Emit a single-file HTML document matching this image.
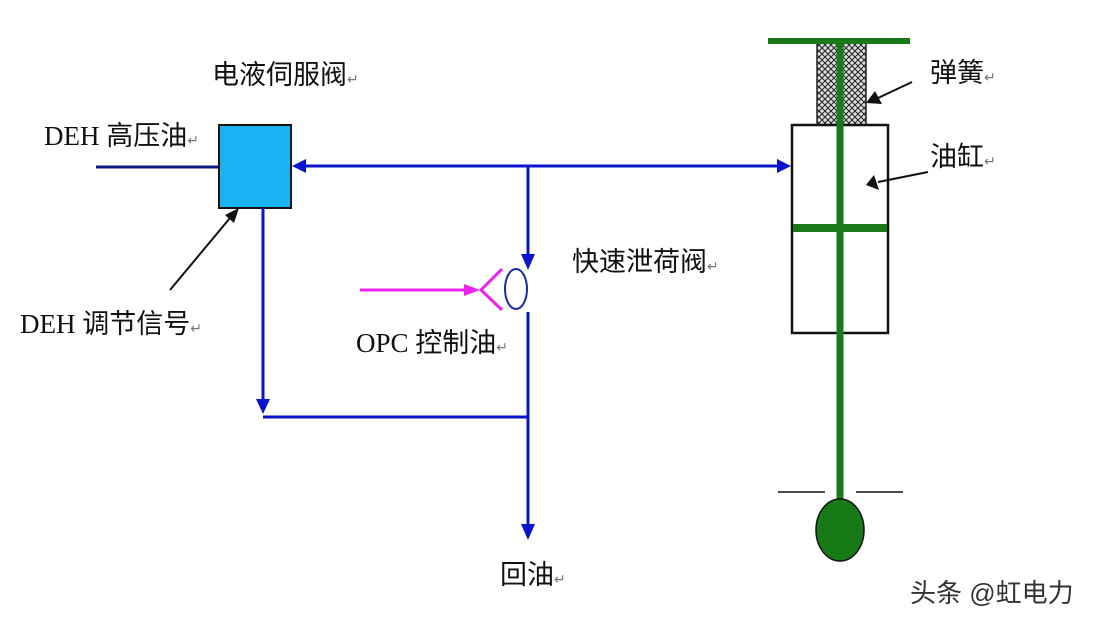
<!DOCTYPE html>
<html><head><meta charset="utf-8"><style>
html,body{margin:0;padding:0;background:#fff;}
svg text{font-family:"Liberation Serif","Noto Sans CJK SC",sans-serif;fill:#111;}
</style></head><body>
<svg width="1104" height="624" viewBox="0 0 1104 624" xmlns="http://www.w3.org/2000/svg">
<defs>
<pattern id="hatch" width="6" height="6" patternUnits="userSpaceOnUse">
<rect width="6" height="6" fill="#ddd"/>
<path d="M0,0 L6,6 M6,0 L0,6" stroke="#222" stroke-width="1"/>
</pattern>
</defs>
<line x1="96" y1="167" x2="219" y2="167" stroke="#0a1a80" stroke-width="3"/>
<rect x="219" y="125" width="72" height="83" fill="#1ab2f0" stroke="#111" stroke-width="2"/>
<g stroke="#0a14cc" stroke-width="3" fill="none">
<line x1="300" y1="166" x2="780" y2="166"/>
<line x1="528" y1="166" x2="528" y2="258"/>
<line x1="528" y1="312" x2="528" y2="528"/>
<line x1="263" y1="208" x2="263" y2="404"/>
<line x1="263" y1="417" x2="528" y2="417"/>
</g>
<g fill="#0a14cc">
<polygon points="292,166 306,159 306,173"/>
<polygon points="791,166 777,159 777,173"/>
<polygon points="528,270 521,254 535,254"/>
<polygon points="263,414 256,399 270,399"/>
<polygon points="528,540 521,524 535,524"/>
</g>
<ellipse cx="516" cy="289" rx="11" ry="20" fill="none" stroke="#1a2aa0" stroke-width="2"/>
<g stroke="#ee22ee" stroke-width="3" fill="none">
<line x1="360" y1="290" x2="470" y2="290"/>
<polyline points="502,269 481,290 502,310"/>
</g>
<polygon points="480,290 464,284 464,296" fill="#ee22ee"/>
<rect x="817" y="42" width="49" height="83" fill="url(#hatch)" stroke="#222" stroke-width="1.5"/>
<rect x="792" y="125" width="96" height="208" fill="#fff" stroke="#111" stroke-width="2.5"/>
<g stroke="#1a7a1a" fill="none">
<line x1="768" y1="41" x2="910" y2="41" stroke-width="6"/>
<line x1="840" y1="38" x2="840" y2="500" stroke-width="7"/>
<line x1="793" y1="228" x2="887" y2="228" stroke-width="8"/>
</g>
<line x1="778" y1="492" x2="825" y2="492" stroke="#111" stroke-width="1.5"/>
<line x1="856" y1="492" x2="903" y2="492" stroke="#111" stroke-width="1.5"/>
<ellipse cx="840" cy="530" rx="24" ry="31" fill="#177a17" stroke="#111" stroke-width="1.5"/>
<g stroke="#111" stroke-width="2">
<line x1="912" y1="82" x2="878" y2="98"/>
<line x1="928" y1="172" x2="878" y2="182"/>
<line x1="170" y1="290" x2="230" y2="218"/>
</g>
<g fill="#111">
<polygon points="866,103 875,91 882,104"/>
<polygon points="866,185 874,175 879,190"/>
<polygon points="239,208 225,215 234,223"/>
</g>
<g font-size="27">
<text x="212" y="84">电液伺服阀<tspan font-size="14" fill="#777">↵</tspan></text>
<text x="44" y="145">DEH 高压油<tspan font-size="14" fill="#777">↵</tspan></text>
<text x="20" y="333">DEH 调节信号<tspan font-size="14" fill="#777">↵</tspan></text>
<text x="572" y="271">快速泄荷阀<tspan font-size="14" fill="#777">↵</tspan></text>
<text x="356" y="352">OPC 控制油<tspan font-size="14" fill="#777">↵</tspan></text>
<text x="500" y="584">回油<tspan font-size="14" fill="#777">↵</tspan></text>
<text x="930" y="82">弹簧<tspan font-size="14" fill="#777">↵</tspan></text>
<text x="930" y="166">油缸<tspan font-size="14" fill="#777">↵</tspan></text>
</g>
<text x="910" y="602" font-size="26" style="font-family:'Liberation Sans','Noto Sans CJK SC',sans-serif;fill:#333">头条 @虹电力</text>
</svg>
</body></html>
